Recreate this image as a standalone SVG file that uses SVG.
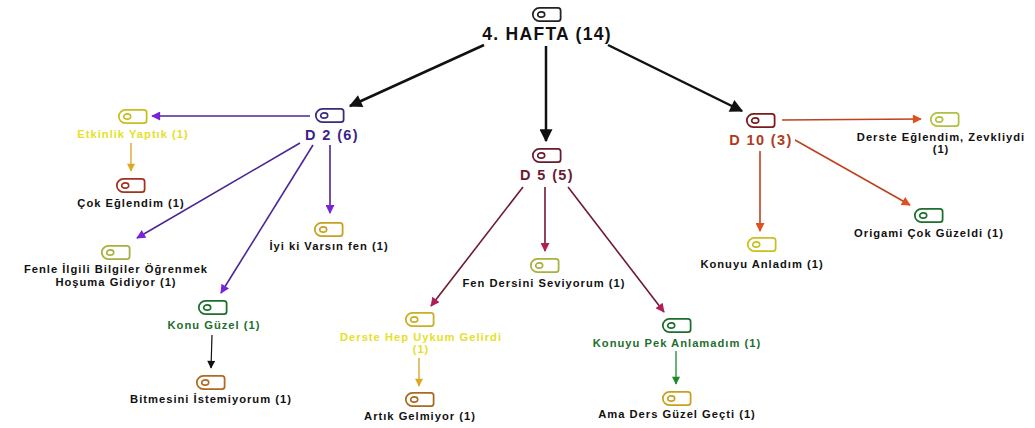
<svg xmlns="http://www.w3.org/2000/svg" xmlns:xlink="http://www.w3.org/1999/xlink" width="1035" height="428" viewBox="0 0 1035 428">
<defs>
<style>
text{font-family:"Liberation Sans",Arial,sans-serif;font-weight:bold;text-anchor:middle;fill:#111}
.t{font-size:11.2px;letter-spacing:1px}
.hub{font-size:14.5px;letter-spacing:1.4px}
.e{fill:none}
</style>
<symbol id="ic" viewBox="-1 -1 34 17" overflow="visible">
<path d="M8,0 H29 Q32,0 32,3 V12 Q32,15 29,15 H8 A7.5,7.5 0 0 1 8,0 Z" fill="#fff" stroke="currentColor" stroke-width="2"/>
<ellipse cx="10" cy="7.5" rx="4" ry="3" fill="none" stroke="currentColor" stroke-width="1.8"/>
</symbol>
<marker id="mp" viewBox="0 0 10 10" refX="9" refY="5" markerWidth="11" markerHeight="9" orient="auto" markerUnits="userSpaceOnUse"><path d="M0,0 L10,5 L0,10 Z" fill="#7a22d8"/></marker>
<marker id="mm" viewBox="0 0 10 10" refX="9" refY="5" markerWidth="11" markerHeight="9" orient="auto" markerUnits="userSpaceOnUse"><path d="M0,0 L10,5 L0,10 Z" fill="#b01e58"/></marker>
<marker id="mo" viewBox="0 0 10 10" refX="9" refY="5" markerWidth="11" markerHeight="9" orient="auto" markerUnits="userSpaceOnUse"><path d="M0,0 L10,5 L0,10 Z" fill="#e0501e"/></marker>
<marker id="mg" viewBox="0 0 10 10" refX="9" refY="5" markerWidth="9" markerHeight="8" orient="auto" markerUnits="userSpaceOnUse"><path d="M0,0 L10,5 L0,10 Z" fill="#e0a820"/></marker>
<marker id="mgr" viewBox="0 0 10 10" refX="9" refY="5" markerWidth="9" markerHeight="8" orient="auto" markerUnits="userSpaceOnUse"><path d="M0,0 L10,5 L0,10 Z" fill="#1a8a2a"/></marker>
<marker id="mb" viewBox="0 0 10 10" refX="9" refY="5" markerWidth="9" markerHeight="8" orient="auto" markerUnits="userSpaceOnUse"><path d="M0,0 L10,5 L0,10 Z" fill="#111"/></marker>
<marker id="mB" viewBox="0 0 10 10" refX="9" refY="5" markerWidth="15" markerHeight="13" orient="auto" markerUnits="userSpaceOnUse"><path d="M0,0 L10,5 L0,10 Z" fill="#111"/></marker>
</defs>
<rect width="1035" height="428" fill="#fff"/>

<g id="connectors" class="e">
<line x1="484" y1="45" x2="350" y2="106" stroke="#111" stroke-width="2.5" marker-end="url(#mB)"/>
<line x1="546" y1="46" x2="546" y2="141" stroke="#111" stroke-width="2.5" marker-end="url(#mB)"/>
<line x1="608" y1="45" x2="742" y2="111" stroke="#111" stroke-width="2.5" marker-end="url(#mB)"/>
<line x1="310" y1="116" x2="152" y2="116" stroke="#4a2696" stroke-width="1.6" marker-end="url(#mp)"/>
<line x1="300" y1="143" x2="137" y2="238" stroke="#4a2696" stroke-width="1.6" marker-end="url(#mp)"/>
<line x1="313" y1="145" x2="221" y2="293" stroke="#4a2696" stroke-width="1.6" marker-end="url(#mp)"/>
<line x1="330" y1="145" x2="330" y2="213" stroke="#4a2696" stroke-width="1.6" marker-end="url(#mp)"/>
<line x1="131" y1="143" x2="131" y2="171" stroke="#d8a020" stroke-width="1.3" marker-end="url(#mg)"/>
<line x1="212" y1="335" x2="211" y2="368" stroke="#111" stroke-width="1.2" marker-end="url(#mb)"/>
<line x1="523" y1="187" x2="431" y2="306" stroke="#6e1a32" stroke-width="1.6" marker-end="url(#mm)"/>
<line x1="545" y1="187" x2="545" y2="251" stroke="#6e1a32" stroke-width="1.6" marker-end="url(#mm)"/>
<line x1="568" y1="187" x2="664" y2="312" stroke="#6e1a32" stroke-width="1.6" marker-end="url(#mm)"/>
<line x1="419" y1="358" x2="419" y2="386" stroke="#d8a020" stroke-width="1.3" marker-end="url(#mg)"/>
<line x1="676" y1="351" x2="676" y2="384" stroke="#1a8a2a" stroke-width="1.3" marker-end="url(#mgr)"/>
<line x1="782" y1="120" x2="921" y2="119" stroke="#c0401e" stroke-width="1.6" marker-end="url(#mo)"/>
<line x1="795" y1="140" x2="910" y2="205" stroke="#c0401e" stroke-width="1.6" marker-end="url(#mo)"/>
<line x1="760" y1="151" x2="760" y2="231" stroke="#c0401e" stroke-width="1.6" marker-end="url(#mo)"/>
</g>

<g id="n-root"><use xlink:href="#ic" x="530" y="7" width="33" height="15" style="color:#222"/><text x="547" y="40" style="font-size:17.5px;letter-spacing:1.3px">4. HAFTA (14)</text></g>
<g id="n-d2"><use xlink:href="#ic" x="313" y="108" width="33" height="15" style="color:#3a2a80"/><text class="hub" x="332" y="140" style="fill:#3c1f8a">D 2 (6)</text></g>
<g id="n-etkinlik"><use xlink:href="#ic" x="116" y="109" width="33" height="15" style="color:#c8be20"/><text class="t" x="133" y="138" style="fill:#e6e028">Etkinlik Yaptık (1)</text></g>
<g id="n-cok"><use xlink:href="#ic" x="114" y="178" width="33" height="15" style="color:#a03222"/><text class="t" x="131" y="207">Çok Eğlendim (1)</text></g>
<g id="n-fenle"><use xlink:href="#ic" x="99" y="245" width="33" height="15" style="color:#a8b040"/><text class="t" x="116" y="273">Fenle İlgili Bilgiler Öğrenmek</text><text class="t" x="116" y="286">Hoşuma Gidiyor (1)</text></g>
<g id="n-konuguzel"><use xlink:href="#ic" x="196" y="300" width="33" height="15" style="color:#1e6e2e"/><text class="t" x="214" y="329" style="fill:#1e6e2e">Konu Güzel (1)</text></g>
<g id="n-bitmesini"><use xlink:href="#ic" x="194" y="375" width="33" height="15" style="color:#b06a20"/><text class="t" x="211" y="403">Bitmesini İstemiyorum (1)</text></g>
<g id="n-iyiki"><use xlink:href="#ic" x="312" y="222" width="33" height="15" style="color:#c8a020"/><text class="t" x="329" y="250">İyi ki Varsın fen (1)</text></g>
<g id="n-d5"><use xlink:href="#ic" x="530" y="148" width="33" height="15" style="color:#6b1a2e"/><text class="hub" x="547" y="180" style="fill:#6b1a2e">D 5 (5)</text></g>
<g id="n-fendersini"><use xlink:href="#ic" x="528" y="258" width="33" height="15" style="color:#a8b040"/><text class="t" x="544" y="287">Fen Dersini Seviyorum (1)</text></g>
<g id="n-derstehep"><use xlink:href="#ic" x="403" y="312" width="33" height="15" style="color:#c8b020"/><text class="t" x="421" y="341" style="fill:#e6e028">Derste Hep Uykum Gelirdi</text><text class="t" x="421" y="353" style="fill:#e6e028">(1)</text></g>
<g id="n-artik"><use xlink:href="#ic" x="403" y="392" width="33" height="15" style="color:#a86a20"/><text class="t" x="420" y="420">Artık Gelmiyor (1)</text></g>
<g id="n-konuyupek"><use xlink:href="#ic" x="660" y="318" width="33" height="15" style="color:#1e6e2e"/><text class="t" x="677" y="347" style="fill:#1e6e2e">Konuyu Pek Anlamadım (1)</text></g>
<g id="n-ama"><use xlink:href="#ic" x="660" y="391" width="33" height="15" style="color:#c8a020"/><text class="t" x="677" y="418">Ama Ders Güzel Geçti (1)</text></g>
<g id="n-d10"><use xlink:href="#ic" x="744" y="113" width="33" height="15" style="color:#7a1a1a"/><text class="hub" x="761" y="145" style="fill:#b03a1a">D 10 (3)</text></g>
<g id="n-derstee"><use xlink:href="#ic" x="928" y="112" width="33" height="15" style="color:#b0c040"/><text class="t" x="941" y="141">Derste Eğlendim, Zevkliydi</text><text class="t" x="941" y="153">(1)</text></g>
<g id="n-origami"><use xlink:href="#ic" x="912" y="208" width="33" height="15" style="color:#1e6e2e"/><text class="t" x="929" y="237">Origami Çok Güzeldi (1)</text></g>
<g id="n-konuyuanladim"><use xlink:href="#ic" x="745" y="237" width="33" height="15" style="color:#c8c020"/><text class="t" x="762" y="268">Konuyu Anladım (1)</text></g>
</svg>
